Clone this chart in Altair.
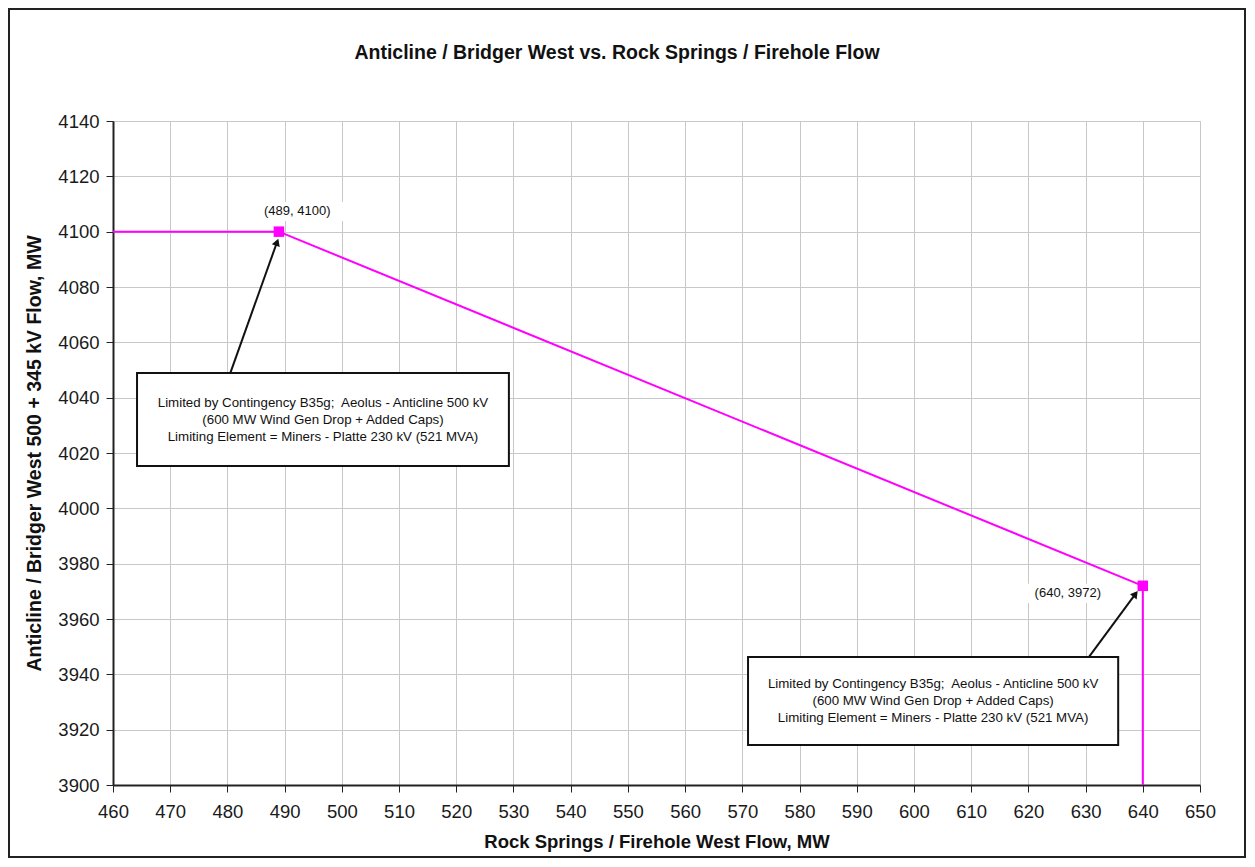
import altair as alt
import pandas as pd

FONT = "Liberation Sans"

chart_title = "Anticline / Bridger West vs. Rock Springs / Firehole Flow"
x_title = "Rock Springs / Firehole West Flow, MW"
y_title = "Anticline / Bridger West 500 + 345 kV Flow, MW"

# limit curve
line_x = [460, 489, 640, 640]
line_y = [4100, 4100, 3972, 3900]

# marked vertices
point_x = [489, 640]
point_y = [4100, 3972]
point_labels = ["(489, 4100)", "(640, 3972)"]
label_x = [492.2, 626.9]
label_y = [4107.5, 3969.4]
label_bg_x1 = [483.6, 619.9]
label_bg_x2 = [500.6, 634.3]
label_bg_y1 = [4110.7, 3972.7]
label_bg_y2 = [4103.9, 3965.8]

# annotation boxes
note_lines = [
    "Limited by Contingency B35g;\u00a0 Aeolus - Anticline 500 kV",
    "(600 MW Wind Gen Drop + Added Caps)",
    "Limiting Element = Miners - Platte 230 kV (521 MVA)",
]
box_x1 = [464.2, 571.0]
box_x2 = [529.2, 635.7]
box_y1 = [4048.9, 3946.3]
box_y2 = [4015.3, 3914.5]

# arrows
arrow_x1 = [480.5, 630.6]
arrow_y1 = [4048.9, 3946.3]
arrow_x2 = [488.6, 638.6]
arrow_y2 = [4095.8, 3968.7]
arrow_angle = [20, 37]

x_ticks = list(range(460, 651, 10))
y_ticks = list(range(3900, 4141, 20))

line_df = pd.DataFrame({"x": line_x, "y": line_y, "i": range(len(line_x))})
pt_df = pd.DataFrame({"x": point_x, "y": point_y})
lab_df = pd.DataFrame({"x": label_x, "y": label_y, "t": point_labels,
                       "bx1": label_bg_x1, "bx2": label_bg_x2,
                       "by1": label_bg_y1, "by2": label_bg_y2})
box_df = pd.DataFrame({"x1": box_x1, "x2": box_x2, "y1": box_y1, "y2": box_y2,
                       "t": ["\n".join(note_lines)] * 2})
box_df["cx"] = (box_df.x1 + box_df.x2) / 2
box_df["cy"] = (box_df.y1 + box_df.y2) / 2
arr_df = pd.DataFrame({"x1": arrow_x1, "y1": arrow_y1, "x2": arrow_x2, "y2": arrow_y2,
                       "a": arrow_angle})

xs = alt.Scale(domain=[460, 650], nice=False, zero=False)
ys = alt.Scale(domain=[3900, 4140], nice=False, zero=False)

xaxis = alt.Axis(title=x_title, values=x_ticks, format="d", grid=True, gridColor="#c8c8c8",
                 domainColor="#222", domainWidth=2, tickColor="#222", tickSize=7,
                 labelFontSize=18.5, labelFont=FONT, labelColor="#1a1a1a", labelPadding=10,
                 titleFont=FONT, titleFontSize=18.5, titleFontWeight="bold", titleColor="#111",
                 titlePadding=12, labelFlush=False)
yaxis = alt.Axis(title=y_title, values=y_ticks, format="d", grid=True, gridColor="#c8c8c8",
                 domainColor="#222", domainWidth=2, tickColor="#222", tickSize=7,
                 labelFontSize=18.5, labelFont=FONT, labelColor="#1a1a1a", labelPadding=7,
                 titleFont=FONT, titleFontSize=19.5, titleFontWeight="bold", titleColor="#111",
                 titlePadding=13, labelFlush=False)

frame = alt.Chart(pd.DataFrame({"k": [0]})).mark_rect(
    filled=False, stroke="#222", strokeWidth=2, clip=False
).encode(x=alt.value(-104), x2=alt.value(1132), y=alt.value(-112), y2=alt.value(736))

title_mark = alt.Chart(pd.DataFrame({"t": [chart_title]})).mark_text(
    font=FONT, fontSize=19.5, fontWeight="bold", color="#111",
    align="center", baseline="middle", clip=False
).encode(x=alt.value(504), y=alt.value(-68), text="t:N")

line = alt.Chart(line_df).mark_line(color="#ff00ff", strokeWidth=2).encode(
    x=alt.X("x:Q", scale=xs, axis=xaxis),
    y=alt.Y("y:Q", scale=ys, axis=yaxis),
    order="i:Q",
)

pts = alt.Chart(pt_df).mark_point(shape="square", filled=True, size=110,
                                  color="#ff00ff", opacity=1).encode(
    x=alt.X("x:Q", scale=xs), y=alt.Y("y:Q", scale=ys))

lab_bg = alt.Chart(lab_df).mark_rect(fill="white").encode(
    x=alt.X("bx1:Q", scale=xs), x2="bx2:Q",
    y=alt.Y("by1:Q", scale=ys), y2="by2:Q")

labs = alt.Chart(lab_df).mark_text(font=FONT, fontSize=13, color="#111",
                                   baseline="middle", align="center").encode(
    x=alt.X("x:Q", scale=xs), y=alt.Y("y:Q", scale=ys), text="t:N")

arrows = alt.Chart(arr_df).mark_rule(color="#111", strokeWidth=2).encode(
    x=alt.X("x1:Q", scale=xs), x2="x2:Q",
    y=alt.Y("y1:Q", scale=ys), y2="y2:Q")

heads = alt.Chart(arr_df).mark_point(shape="triangle", filled=True, size=70,
                                     color="#111", opacity=1).encode(
    x=alt.X("x2:Q", scale=xs), y=alt.Y("y2:Q", scale=ys),
    angle=alt.Angle("a:Q", scale=None))

boxes = alt.Chart(box_df).mark_rect(fill="white", stroke="#111", strokeWidth=2).encode(
    x=alt.X("x1:Q", scale=xs), x2="x2:Q",
    y=alt.Y("y1:Q", scale=ys), y2="y2:Q")

box_text = alt.Chart(box_df).mark_text(font=FONT, fontSize=13.3, color="#111",
                                       lineBreak="\n", lineHeight=17, dy=-17,
                                       align="center", baseline="middle").encode(
    x=alt.X("cx:Q", scale=xs), y=alt.Y("cy:Q", scale=ys), text="t:N")

chart = alt.layer(frame, title_mark, lab_bg, line, pts, arrows, heads, boxes, box_text,
                  labs).properties(
    width=1087, height=664,
    padding={"left": 105, "top": 113, "right": 47, "bottom": 74},
    autosize=alt.AutoSizeParams(type="none"),
).configure_view(stroke=None).configure(background="white")

chart.save("out.html", embed_options={"renderer": "svg", "actions": False})
